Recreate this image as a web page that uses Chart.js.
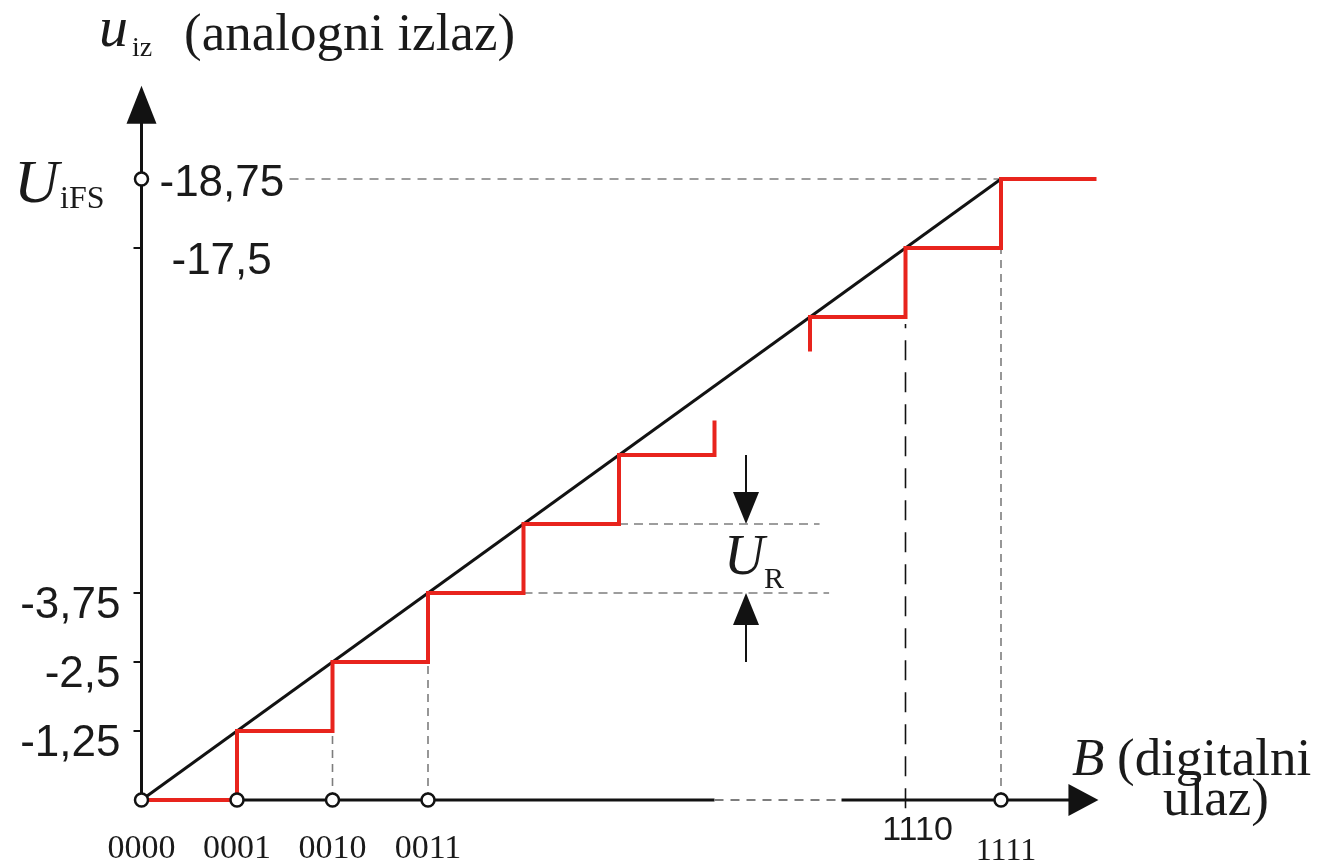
<!DOCTYPE html>
<html>
<head>
<meta charset="utf-8">
<script src="https://cdn.jsdelivr.net/npm/chart.js@4.4.1/dist/chart.umd.min.js"></script>
<style>
html,body{margin:0;padding:0;background:#ffffff;overflow:hidden}
canvas{display:block}
</style>
</head>
<body>
<canvas id="c" width="1324" height="866"></canvas>
<script>
// ---------------- data ----------------
// digital input codes shown on the (compressed) B axis and their step index
const codeLabels = ['0000', '0001', '0010', '0011', '1110', '1111'];
const codeSteps  = [0, 1, 2, 3, 8, 9];
// codes marked with a hollow circle on the B axis
const circleCodes = ['0000', '0001', '0010', '0011', '1111'];
// analog output levels (in LSB steps) and their labels
const levelLabels = ['-1,25', '-2,5', '-3,75', '-17,5', '-18,75'];
const levelSteps  = [1, 2, 3, 8, 9];
const fullScaleStep = 9;          // U_iFS = -18,75 V
// ideal (straight) characteristic
const idealX = [0, 9];
const idealY = [0, 9];
// real staircase characteristic, lower visible part
const stairLowX = [0, 1, 2, 3, 4, 5, 6];
const stairLowY = [0, 1, 2, 3, 4, 5, 5.5];
// real staircase characteristic, upper visible part
const stairHighX = [7, 8, 9, 10];
const stairHighY = [6.5, 7, 8, 9];
// U_R dimension: the two levels one LSB apart
const urLevels = [3, 4];
const urLineStart = [4, 5];
const urLineEnd = [7.2, 7.1];
const urArrowAt = 6.33;

// ---------------- styling ----------------
const RED = '#e8241d';
const BLACK = '#121212';
const GRAY = '#7d7d7d';
const SERIF = '"Liberation Serif", "Times New Roman", serif';
const SANS = '"Liberation Sans", Arial, sans-serif';

const pts = (xs, ys) => xs.map((x, i) => ({ x: x, y: ys[i] }));
function lineDs(data, color, width, dash, order, stepped) {
  return {
    type: 'line', data: data, borderColor: color, borderWidth: width,
    borderDash: dash || [], pointRadius: 0, fill: false, tension: 0,
    stepped: stepped || false, order: order, borderCapStyle: 'butt'
  };
}

const datasets = [];
// hollow circles on axes
const circlePts = circleCodes.map(c => ({ x: codeSteps[codeLabels.indexOf(c)], y: 0 }));
circlePts.push({ x: 0, y: fullScaleStep });
datasets.push({
  type: 'scatter', data: circlePts, pointRadius: 6.5, pointHoverRadius: 6.5,
  pointBackgroundColor: '#ffffff', pointBorderColor: BLACK, pointBorderWidth: 2.5,
  showLine: false, order: 0
});
// staircase
datasets.push(lineDs(pts(stairLowX, stairLowY), RED, 4, null, 1, true));
datasets.push(lineDs(pts(stairHighX, stairHighY), RED, 4, null, 1, 'after'));
// ideal line
datasets.push(lineDs(pts(idealX, idealY), BLACK, 3, null, 2));
// guide lines (dashed)
const s = (c) => codeSteps[codeLabels.indexOf(c)];
datasets.push(lineDs([{ x: 1.55, y: fullScaleStep }, { x: s('1111'), y: fullScaleStep }], GRAY, 1.6, [9, 7], 3));
datasets.push(lineDs([{ x: s('0010'), y: 0 }, { x: s('0010'), y: 2 }], GRAY, 1.6, [8, 6], 3));
datasets.push(lineDs([{ x: s('0011'), y: 0 }, { x: s('0011'), y: 3 }], GRAY, 1.6, [8, 6], 3));
datasets.push(lineDs([{ x: s('1111'), y: 0 }, { x: s('1111'), y: 8 }], GRAY, 1.6, [8, 6], 3));
datasets.push(lineDs([{ x: s('1110'), y: -0.12 }, { x: s('1110'), y: 6.9 }], BLACK, 1.6, [20, 12], 3));
urLevels.forEach((lv, i) => {
  datasets.push(lineDs([{ x: urLineStart[i], y: lv }, { x: urLineEnd[i], y: lv }], GRAY, 1.6, [9, 6], 3));
});

// ---------------- drawing helpers ----------------
function arrowHead(ctx, tx, ty, dx, dy, len, half) {
  const bx = tx - dx * len, by = ty - dy * len;
  const px = -dy, py = dx;
  ctx.beginPath();
  ctx.moveTo(tx, ty);
  ctx.lineTo(bx + px * half, by + py * half);
  ctx.lineTo(bx - px * half, by - py * half);
  ctx.closePath();
  ctx.fill();
}

const yAxisEnd = 10.35;
const xAxisEnd = 10.02;
const xAxisBreak = [6, 7.33];

const schematic = {
  id: 'schematic',
  beforeDatasetsDraw(chart) {
    const ctx = chart.ctx;
    const X = v => chart.scales.x.getPixelForValue(v);
    const Y = v => chart.scales.y.getPixelForValue(v);
    ctx.save();
    ctx.fillStyle = BLACK;
    ctx.strokeStyle = BLACK;
    ctx.lineWidth = 3;
    // y axis
    ctx.beginPath(); ctx.moveTo(X(0), Y(0)); ctx.lineTo(X(0), Y(yAxisEnd) + 30); ctx.stroke();
    arrowHead(ctx, X(0), Y(yAxisEnd), 0, -1, 38, 15);
    // x axis with break
    ctx.beginPath(); ctx.moveTo(X(0), Y(0)); ctx.lineTo(X(xAxisBreak[0]), Y(0)); ctx.stroke();
    ctx.beginPath(); ctx.moveTo(X(xAxisBreak[1]), Y(0)); ctx.lineTo(X(xAxisEnd) - 25, Y(0)); ctx.stroke();
    ctx.save();
    ctx.strokeStyle = GRAY; ctx.lineWidth = 2; ctx.setLineDash([9, 7]);
    ctx.beginPath(); ctx.moveTo(X(xAxisBreak[0]), Y(0)); ctx.lineTo(X(xAxisBreak[1]), Y(0)); ctx.stroke();
    ctx.restore();
    arrowHead(ctx, X(xAxisEnd), Y(0), 1, 0, 30, 16);
    // ticks on y axis
    ctx.lineWidth = 2;
    levelSteps.forEach(v => {
      if (v === fullScaleStep) return;
      ctx.beginPath(); ctx.moveTo(X(0) - 8, Y(v)); ctx.lineTo(X(0), Y(v)); ctx.stroke();
    });
    // U_R dimension arrows
    ctx.lineWidth = 2;
    const ax = X(urArrowAt);
    const yHi = Y(urLevels[1]), yLo = Y(urLevels[0]);
    ctx.beginPath(); ctx.moveTo(ax, Y(urLevels[1] + 1)); ctx.lineTo(ax, yHi - 30); ctx.stroke();
    arrowHead(ctx, ax, yHi, 0, 1, 32, 13);
    ctx.beginPath(); ctx.moveTo(ax, Y(urLevels[0] - 1)); ctx.lineTo(ax, yLo + 30); ctx.stroke();
    arrowHead(ctx, ax, yLo, 0, -1, 32, 13);
    ctx.restore();
  },
  afterDraw(chart) {
    const ctx = chart.ctx;
    const X = v => chart.scales.x.getPixelForValue(v);
    const Y = v => chart.scales.y.getPixelForValue(v);
    ctx.save();
    ctx.fillStyle = '#1a1a1a';
    ctx.textBaseline = 'alphabetic';
    // title of y axis
    ctx.textAlign = 'left';
    ctx.font = 'italic 58px ' + SERIF;
    ctx.fillText('u', 99, 46);
    ctx.font = '28px ' + SERIF;
    ctx.fillText('iz', 132, 56);
    ctx.font = '53px ' + SERIF;
    ctx.fillText('(analogni izlaz)', 184, 50);
    // U_iFS
    ctx.font = 'italic 62px ' + SERIF;
    ctx.fillText('U', 14, 202);
    ctx.font = '32px ' + SERIF;
    ctx.fillText('iFS', 60, 208);
    // level labels
    ctx.font = '44px ' + SANS;
    ctx.textBaseline = 'middle';
    levelLabels.forEach((lab, i) => {
      const v = levelSteps[i];
      if (v === fullScaleStep) { ctx.textAlign = 'left'; ctx.fillText(lab, X(0) + 18, Y(v) + 5); }
      else if (v > 3) { ctx.textAlign = 'left'; ctx.fillText(lab, X(0) + 30, Y(v) + 14); }
      else { ctx.textAlign = 'right'; ctx.fillText(lab, X(0) - 21, Y(v) + 13); }
    });
    // code labels
    ctx.textAlign = 'center';
    ctx.textBaseline = 'alphabetic';
    codeLabels.forEach((lab, i) => {
      const v = codeSteps[i];
      if (lab === '1110') { ctx.font = '34px ' + SANS; ctx.fillText(lab, X(v) + 12, Y(0) + 40); }
      else if (lab === '1111') { ctx.font = '32px ' + SERIF; ctx.fillText(lab, X(v) + 5, Y(0) + 60); }
      else { ctx.font = '34px ' + SERIF; ctx.fillText(lab, X(v), Y(0) + 58); }
    });
    // B label
    ctx.textAlign = 'left';
    ctx.font = 'italic 53px ' + SERIF;
    ctx.fillText('B', 1072, 775);
    ctx.font = '53px ' + SERIF;
    ctx.fillText('(digitalni', 1117, 775);
    ctx.fillText('ulaz)', 1163, 815);
    // U_R
    ctx.font = 'italic 56px ' + SERIF;
    ctx.fillText('U', 724, 574);
    ctx.font = '30px ' + SERIF;
    ctx.fillText('R', 764, 588);
    ctx.restore();
  }
};

// ---------------- chart ----------------
const pxPerStepX = 95.5, pxPerStepY = 69.0, originX = 141.5, originY = 800;
new Chart(document.getElementById('c'), {
  type: 'line',
  data: { datasets: datasets },
  options: {
    responsive: false,
    animation: false,
    devicePixelRatio: 1,
    events: [],
    layout: { padding: 0, autoPadding: false },
    plugins: { legend: { display: false }, tooltip: { enabled: false } },
    scales: {
      x: { type: 'linear', display: false, min: -originX / pxPerStepX, max: (1324 - originX) / pxPerStepX },
      y: { type: 'linear', display: false, min: (originY - 866) / pxPerStepY, max: originY / pxPerStepY }
    }
  },
  plugins: [schematic]
});
</script>
</body>
</html>
